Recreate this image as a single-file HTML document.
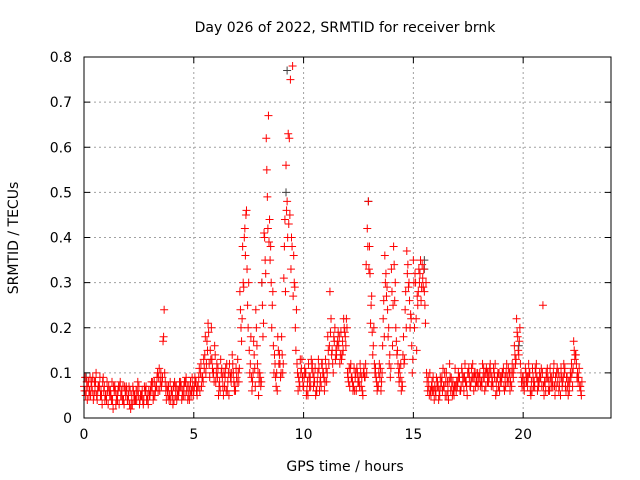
<!DOCTYPE html>
<html><head><meta charset="utf-8">
<style>body{margin:0;background:#fff}svg{display:block;font-family:"DejaVu Sans","Liberation Sans",sans-serif}</style>
</head><body>
<svg id="chart" width="640" height="480">
<text x="345" y="32" text-anchor="middle" font-size="14">Day 026 of 2022, SRMTID for receiver brnk</text>
<text x="345" y="471" text-anchor="middle" font-size="14">GPS time / hours</text>
<text transform="translate(18,238) rotate(-90)" text-anchor="middle" font-size="14">SRMTID / TECUs</text>
<g id="grid"></g><g id="ticks"></g><g id="pts"></g>
<rect x="84" y="57" width="527" height="361" fill="none" stroke="#000"/>
</svg>
<script>
const xTicks=[0,5,10,15,20];
const yTicks=[0,0.1,0.2,0.3,0.4,0.5,0.6,0.7,0.8];
const startHour=0, stepHour=0.1;
const seriesA=[.07,.06,.08,.05,.09,.06,.04,.07,.05,.06,
.05,.03,.06,.04,.07,.05,.03,.06,.04,.05,
.04,.06,.03,.05,.04,.07,.05,.03,.06,.04,
.05,.06,.08,.07,.09,.10,.17,.08,.06,.05,
.06,.04,.07,.05,.08,.06,.05,.07,.04,.06,
.06,.08,.07,.10,.09,.14,.17,.12,.20,.10,
.08,.11,.06,.09,.07,.12,.05,.08,.10,.06,
.13,.28,.22,.40,.46,.30,.18,.10,.07,.12,
.10,.30,.41,.62,.67,.38,.28,.12,.06,.14,
.18,.31,.56,.63,.75,.78,.29,.12,.08,.11,
.07,.10,.05,.09,.12,.08,.06,.11,.07,.10,
.13,.18,.28,.15,.17,.14,.16,.19,.15,.18,
.10,.07,.09,.11,.06,.08,.10,.05,.09,.42,
.38,.27,.20,.09,.07,.11,.16,.36,.29,.12,
.33,.38,.20,.12,.09,.07,.13,.37,.30,.22,
.35,.30,.25,.32,.34,.28,.10,.07,.05,.09,
.06,.08,.05,.09,.07,.10,.04,.06,.08,.11,
.07,.09,.11,.06,.08,.10,.07,.12,.09,.08,
.09,.08,.11,.07,.10,.12,.08,.09,.06,.10,
.08,.11,.07,.09,.06,.12,.16,.22,.14,.10,
.09,.11,.07,.10,.06,.08,.12,.07,.09,.25,
.08,.11,.06,.09,.12,.07,.10,.05,.08,.11,
.09,.06,.12,.17,.14,.08,.07];
const seriesB=[.09,.04,.06,.08,.05,.10,.07,.05,.08,.04,
.08,.06,.04,.07,.03,.06,.08,.04,.07,.06,
.07,.03,.06,.04,.08,.04,.06,.07,.04,.06,
.07,.04,.06,.10,.06,.08,.24,.04,.07,.04,
.03,.07,.05,.08,.04,.07,.09,.05,.08,.07,
.09,.05,.11,.07,.13,.10,.21,.15,.11,.16,
.12,.07,.10,.05,.11,.08,.10,.14,.06,.09,
.08,.20,.30,.36,.25,.10,.06,.14,.20,.05,
.07,.18,.35,.49,.44,.20,.10,.07,.15,.09,
.10,.44,.48,.62,.40,.36,.15,.06,.13,.09,
.11,.06,.09,.13,.07,.05,.10,.08,.12,.06,
.08,.12,.22,.10,.13,.17,.12,.14,.20,.22,
.08,.12,.06,.09,.10,.07,.09,.11,.34,.48,
.21,.14,.10,.06,.12,.08,.26,.32,.18,.09,
.16,.26,.14,.08,.06,.18,.28,.34,.20,.10,
.20,.15,.33,.26,.29,.21,.06,.10,.08,.04,
.09,.04,.07,.11,.05,.08,.12,.07,.05,.06,
.10,.06,.08,.12,.05,.09,.11,.06,.10,.07,
.07,.12,.06,.10,.09,.07,.11,.05,.10,.08,
.10,.06,.12,.08,.10,.09,.12,.18,.20,.07,
.06,.08,.12,.05,.09,.11,.06,.10,.07,.05,
.10,.06,.09,.07,.05,.11,.07,.09,.12,.06,
.05,.10,.07,.13,.09,.11,.05];
const seriesC=[.06,.08,.05,.07,.04,.08,.06,.09,.03,.07,
.04,.07,.05,.02,.06,.04,.07,.05,.03,.07,
.05,.02,.07,.04,.06,.03,.05,.04,.07,.03,
.06,.08,.05,.09,.11,.07,.18,.06,.05,.08,
.05,.08,.04,.06,.07,.05,.08,.04,.06,.09,
.07,.06,.09,.12,.08,.18,.15,.09,.13,.08,
.10,.05,.13,.07,.09,.06,.12,.10,.08,.11,
.10,.24,.38,.42,.33,.15,.09,.17,.24,.10,
.09,.25,.40,.55,.39,.30,.16,.09,.18,.12,
.14,.38,.46,.43,.33,.27,.20,.10,.07,.13,
.09,.05,.12,.07,.10,.11,.08,.06,.12,.09,
.11,.15,.19,.12,.20,.16,.18,.13,.22,.16,
.09,.11,.08,.06,.11,.09,.07,.10,.12,.38,
.32,.19,.12,.08,.10,.06,.22,.30,.24,.14,
.28,.34,.17,.10,.12,.14,.24,.32,.26,.16,
.30,.22,.28,.35,.31,.25,.08,.05,.07,.06,
.05,.07,.09,.06,.10,.05,.08,.09,.06,.07,
.08,.06,.10,.09,.07,.11,.08,.09,.07,.10,
.10,.07,.09,.11,.08,.10,.07,.12,.09,.06,
.09,.07,.10,.11,.08,.10,.14,.19,.17,.08,
.07,.10,.09,.06,.11,.07,.09,.08,.11,.07,
.06,.09,.11,.08,.07,.10,.06,.11,.09,.07,
.07,.08,.10,.15,.12,.09,.06];
const seriesD=[.05,.07,.09,.06,.08,.05,.07,.06,.09,.05,
.06,.05,.08,.06,.04,.07,.05,.07,.06,.04,
.03,.05,.04,.06,.05,.05,.04,.06,.05,.05,
.08,.05,.07,.06,.08,.09,.10,.07,.04,.06,
.07,.05,.06,.07,.05,.08,.06,.07,.05,.05,
.08,.07,.06,.09,.11,.12,.19,.13,.10,.14,
.09,.08,.11,.10,.06,.10,.09,.12,.07,.08,
.11,.17,.29,.45,.20,.12,.08,.11,.16,.08,
.08,.21,.32,.42,.35,.25,.14,.10,.12,.10,
.12,.28,.40,.45,.38,.30,.24,.09,.10,.07,
.10,.08,.07,.11,.09,.06,.13,.09,.10,.08,
.10,.16,.14,.18,.15,.19,.14,.17,.19,.20,
.11,.09,.07,.10,.08,.12,.06,.09,.10,.33,
.25,.16,.11,.07,.09,.10,.18,.27,.20,.11,
.25,.30,.15,.11,.08,.12,.20,.29,.23,.13,
.32,.27,.30,.29,.33,.30,.09,.06,.06,.07,
.07,.06,.08,.07,.08,.06,.09,.05,.07,.08,
.09,.07,.09,.08,.10,.07,.09,.10,.08,.09,
.08,.09,.10,.08,.11,.09,.10,.08,.07,.09,
.10,.09,.08,.10,.07,.11,.13,.15,.12,.09,
.08,.09,.10,.08,.07,.10,.08,.09,.10,.08,
.09,.08,.07,.10,.09,.08,.09,.07,.10,.09,
.08,.09,.11,.14,.10,.07,.08];
const grayHours=[8.1,9.2,9.25,12.95,15.5,15.5,19.8,0.1];
const grayValues=[.30,.50,.77,.48,.35,.33,.16,.09];
const ns="http://www.w3.org/2000/svg";
function xs(h){return 84+h*(527/24);}
function ys(v){return 418-v*(361/0.8);}
const grid=document.getElementById('grid'),tk=document.getElementById('ticks'),pts=document.getElementById('pts');
function mk(tag,at,parent){const e=document.createElementNS(ns,tag);for(const k in at)e.setAttribute(k,at[k]);parent.appendChild(e);return e;}
xTicks.forEach(t=>{const x=xs(t);
 if(t>0){const g=mk('line',{x1:x,x2:x,y1:57,y2:418,stroke:'#a0a0a0','stroke-dasharray':'2,3'},grid);
 
 }
 mk('line',{x1:x,x2:x,y1:418,y2:412,stroke:'#000'},tk);mk('line',{x1:x,x2:x,y1:57,y2:63,stroke:'#000'},tk);
 const l=mk('text',{x:x,y:439,'text-anchor':'middle','font-size':14},tk);l.textContent=t;
 
 });
yTicks.forEach(t=>{const y=ys(t);
 if(t>0&&t<0.8){const g=mk('line',{x1:84,x2:611,y1:y,y2:y,stroke:'#a0a0a0','stroke-dasharray':'2,3'},grid);
 
 }
 mk('line',{x1:84,x2:90,y1:y,y2:y,stroke:'#000'},tk);mk('line',{x1:611,x2:605,y1:y,y2:y,stroke:'#000'},tk);
 const l=mk('text',{x:72,y:y+5,'text-anchor':'end','font-size':14},tk);l.textContent=t===0?'0':t.toFixed(1);
 
 });
function plus(h,v,c,name){const x=xs(h),y=ys(v);
 const p=mk('path',{d:`M${x-4},${y}H${x+4}M${x},${y-4}V${y+4}`,stroke:c,'stroke-width':1},pts);
 
 }
grayHours.forEach((h,i)=>plus(h,grayValues[i],'#404040','gray-point'));
seriesA.forEach((v,i)=>plus(startHour+i*stepHour,v,'#ff0000','srmtid-point'));
seriesB.forEach((v,i)=>plus(startHour+i*stepHour+0.05,v,'#ff0000','srmtid-point'));
seriesC.forEach((v,i)=>plus(startHour+i*stepHour+0.025,v,'#ff0000','srmtid-point'));
seriesD.forEach((v,i)=>plus(startHour+i*stepHour+0.075,v,'#ff0000','srmtid-point'));
</script>
</body></html>
